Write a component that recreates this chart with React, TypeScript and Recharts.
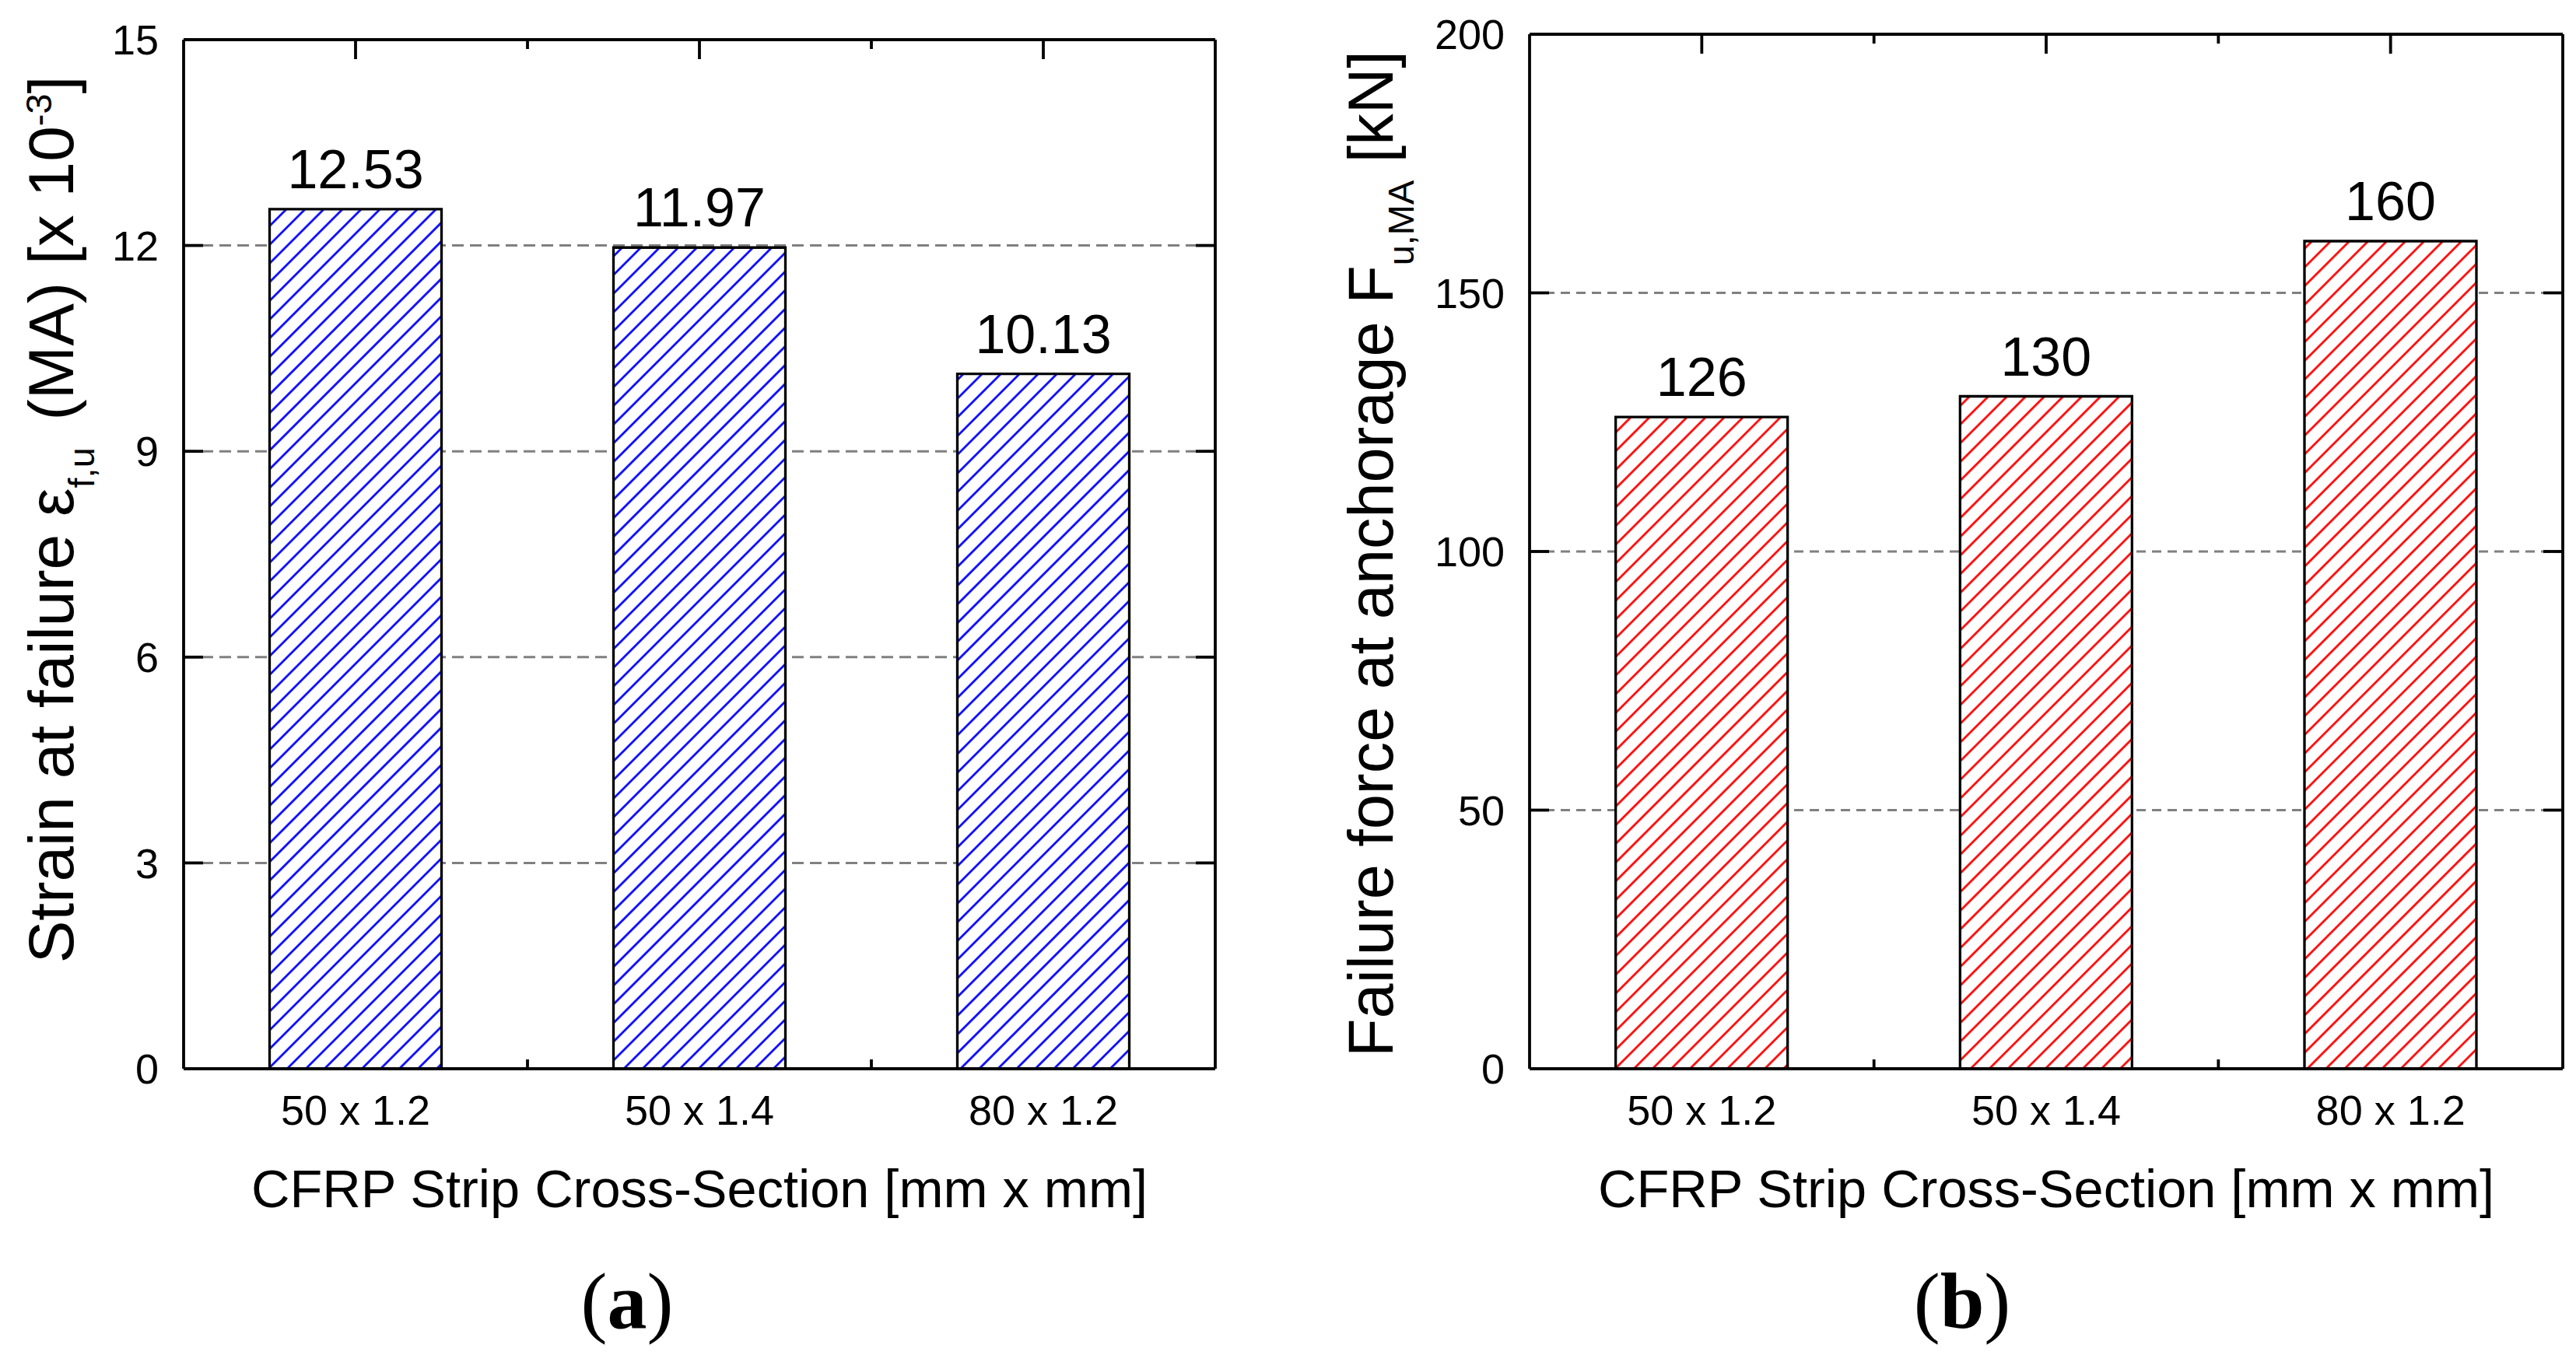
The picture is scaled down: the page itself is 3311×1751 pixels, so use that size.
import React from 'react';
import { ComposedChart, Bar, Line, XAxis, YAxis, CartesianGrid, LabelList } from 'recharts';

// ---- data ----
const categories = ['50 x 1.2', '50 x 1.4', '80 x 1.2'];
const strainValues = [12.53, 11.97, 10.13];
const forceValues = [126, 130, 160];
const strainTicks = [0, 3, 6, 9, 12, 15];
const forceTicks = [0, 50, 100, 150, 200];

const strainData = categories.map((c, i) => ({ category: c, value: strainValues[i] }));
const forceData = categories.map((c, i) => ({ category: c, value: forceValues[i] }));

const W = 3311;
const H = 1751;
const SANS = "'Liberation Sans', Arial, sans-serif";
const SERIF = "'Liberation Serif', 'Times New Roman', serif";

const LINE_W = 3.8;
const axisStyle = { stroke: '#000', strokeWidth: LINE_W };
const MAJOR_LEN = 25;
const MINOR_LEN = 12;
const BOTTOM_GAP = 34;
const LEFT_GAP = 32;

// bottom category tick: label + inward minor tick at the category boundary
function BottomTick(props: any) {
  const { x, y, payload, index, visibleTicksCount } = props;
  const half = payload && typeof payload.offset === 'number' ? payload.offset : 0;
  const axisY = y - BOTTOM_GAP;
  return (
    <g>
      <text x={x} y={y} dy="0.71em" textAnchor="middle" fontSize={54} fontFamily={SANS} fill="#000">
        {payload.value}
      </text>
      {half > 0 && index < visibleTicksCount - 1 && (
        <line x1={x + half} x2={x + half} y1={axisY} y2={axisY - MINOR_LEN} stroke="#000" strokeWidth={LINE_W} />
      )}
    </g>
  );
}

// top category tick: inward major tick at the category centre, minor at the boundary
function TopTick(props: any) {
  const { x, y, payload, index, visibleTicksCount } = props;
  const half = payload && typeof payload.offset === 'number' ? payload.offset : 0;
  return (
    <g>
      <line x1={x} x2={x} y1={y} y2={y + MAJOR_LEN} stroke="#000" strokeWidth={LINE_W} />
      {half > 0 && index < visibleTicksCount - 1 && (
        <line x1={x + half} x2={x + half} y1={y} y2={y + MINOR_LEN} stroke="#000" strokeWidth={LINE_W} />
      )}
    </g>
  );
}

// left value tick: label + inward tick
function LeftTick(props: any) {
  const { x, y, payload } = props;
  const axisX = x + LEFT_GAP;
  return (
    <g>
      <text x={x} y={y} dy="0.355em" textAnchor="end" fontSize={54} fontFamily={SANS} fill="#000">
        {payload.value}
      </text>
      <line x1={axisX} x2={axisX + MAJOR_LEN} y1={y} y2={y} stroke="#000" strokeWidth={LINE_W} />
    </g>
  );
}

// right value tick: inward tick only
function RightTick(props: any) {
  const { x, y } = props;
  return <line x1={x} x2={x - MAJOR_LEN} y1={y} y2={y} stroke="#000" strokeWidth={LINE_W} />;
}

type PanelProps = {
  data: { category: string; value: number }[];
  ticks: number[];
  domain: [number, number];
  color: string;
  id: string;
  margin: { top: number; right: number; bottom: number; left: number };
  dash: string;
};

function Panel({ data, ticks, domain, color, id, margin, dash }: PanelProps) {
  return (
    <div style={{ position: 'absolute', left: 0, top: 0 }}>
      <ComposedChart width={W} height={H} data={data} margin={margin} barCategoryGap="25%">
        <defs>
          <pattern id={id} patternUnits="userSpaceOnUse" width={17} height={17} patternTransform="rotate(45)">
            <rect x={0} y={0} width={17} height={17} fill="#fff" />
            <line x1={8.5} y1={0} x2={8.5} y2={17} stroke={color} strokeWidth={2.7} />
          </pattern>
        </defs>
        <CartesianGrid
          xAxisId="cat"
          yAxisId="left"
          vertical={false}
          stroke="#808080"
          strokeWidth={3}
          strokeDasharray={dash}
        />
        <XAxis
          xAxisId="cat"
          dataKey="category"
          orientation="bottom"
          height={1}
          interval={0}
          tickLine={false}
          tickSize={0}
          tickMargin={BOTTOM_GAP}
          axisLine={axisStyle}
          tick={<BottomTick />}
        />
        <XAxis
          xAxisId="top"
          dataKey="category"
          orientation="top"
          height={1}
          interval={0}
          tickLine={false}
          tickSize={0}
          tickMargin={0}
          axisLine={axisStyle}
          tick={<TopTick />}
        />
        <YAxis
          yAxisId="left"
          orientation="left"
          width={1}
          domain={domain}
          ticks={ticks}
          interval={0}
          allowDataOverflow
          tickLine={false}
          tickSize={0}
          tickMargin={LEFT_GAP}
          axisLine={axisStyle}
          tick={<LeftTick />}
        />
        <YAxis
          yAxisId="right"
          orientation="right"
          width={1}
          domain={domain}
          ticks={ticks}
          interval={0}
          allowDataOverflow
          tickLine={false}
          tickSize={0}
          tickMargin={0}
          axisLine={axisStyle}
          tick={<RightTick />}
        />
        <Bar
          xAxisId="cat"
          yAxisId="left"
          dataKey="value"
          fill={`url(#${id})`}
          stroke="#000"
          strokeWidth={3.3}
          isAnimationActive={false}
        >
          <LabelList dataKey="value" position="top" offset={27} fill="#000" fontSize={70} fontFamily={SANS} />
        </Bar>
        {/* invisible series bound to the right (mirror) axis so that its ticks are computed */}
        <Line
          xAxisId="cat"
          yAxisId="right"
          dataKey="value"
          stroke="none"
          strokeWidth={0}
          dot={false}
          activeDot={false}
          legendType="none"
          isAnimationActive={false}
        />
      </ComposedChart>
    </div>
  );
}

export default function App() {
  return (
    <div
      style={{
        position: 'absolute',
        left: 0,
        top: 0,
        width: W,
        height: H,
        background: '#fff',
        overflow: 'hidden',
      }}
    >
      <Panel
        data={strainData}
        ticks={strainTicks}
        domain={[0, 15]}
        color="#0000FF"
        id="hatchBlue"
        margin={{ top: 50, left: 235, right: W - 1562 - 1, bottom: H - 1374 - 1 }}
        dash="15 8"
      />
      <Panel
        data={forceData}
        ticks={forceTicks}
        domain={[0, 200]}
        color="#FF0000"
        id="hatchRed"
        margin={{ top: 43, left: 1965, right: W - 3294 - 1, bottom: H - 1374 - 1 }}
        dash="12 8"
      />
      <svg width={W} height={H} style={{ position: 'absolute', left: 0, top: 0, pointerEvents: 'none' }}>
        <text
          x={94}
          y={668}
          transform="rotate(-90 94 668)"
          textAnchor="middle"
          fontSize={82}
          fontFamily={SANS}
          fill="#000"
        >
          Strain at failure ε
          <tspan fontSize={47} dy={27}>f,u</tspan>
          <tspan dy={-27} dx={12}> (MA) [x 10</tspan>
          <tspan fontSize={47} dy={-28}>-3</tspan>
          <tspan dy={28}>]</tspan>
        </text>
        <text
          x={1790}
          y={712}
          transform="rotate(-90 1790 712)"
          textAnchor="middle"
          fontSize={81}
          fontFamily={SANS}
          fill="#000"
        >
          Failure force at anchorage F
          <tspan fontSize={47} dy={27}>u,MA</tspan>
          <tspan dy={-27}> [kN]</tspan>
        </text>
        <text x={899} y={1552} textAnchor="middle" fontSize={68.5} fontFamily={SANS} fill="#000">
          CFRP Strip Cross-Section [mm x mm]
        </text>
        <text x={2630} y={1552} textAnchor="middle" fontSize={68.5} fontFamily={SANS} fill="#000">
          CFRP Strip Cross-Section [mm x mm]
        </text>
        <text x={806} y={1707} textAnchor="middle" fontSize={102} fontFamily={SERIF} fill="#000">
          (<tspan fontWeight="bold">a</tspan>)
        </text>
        <text x={2522} y={1707} textAnchor="middle" fontSize={102} fontFamily={SERIF} fill="#000">
          (<tspan fontWeight="bold">b</tspan>)
        </text>
      </svg>
    </div>
  );
}
